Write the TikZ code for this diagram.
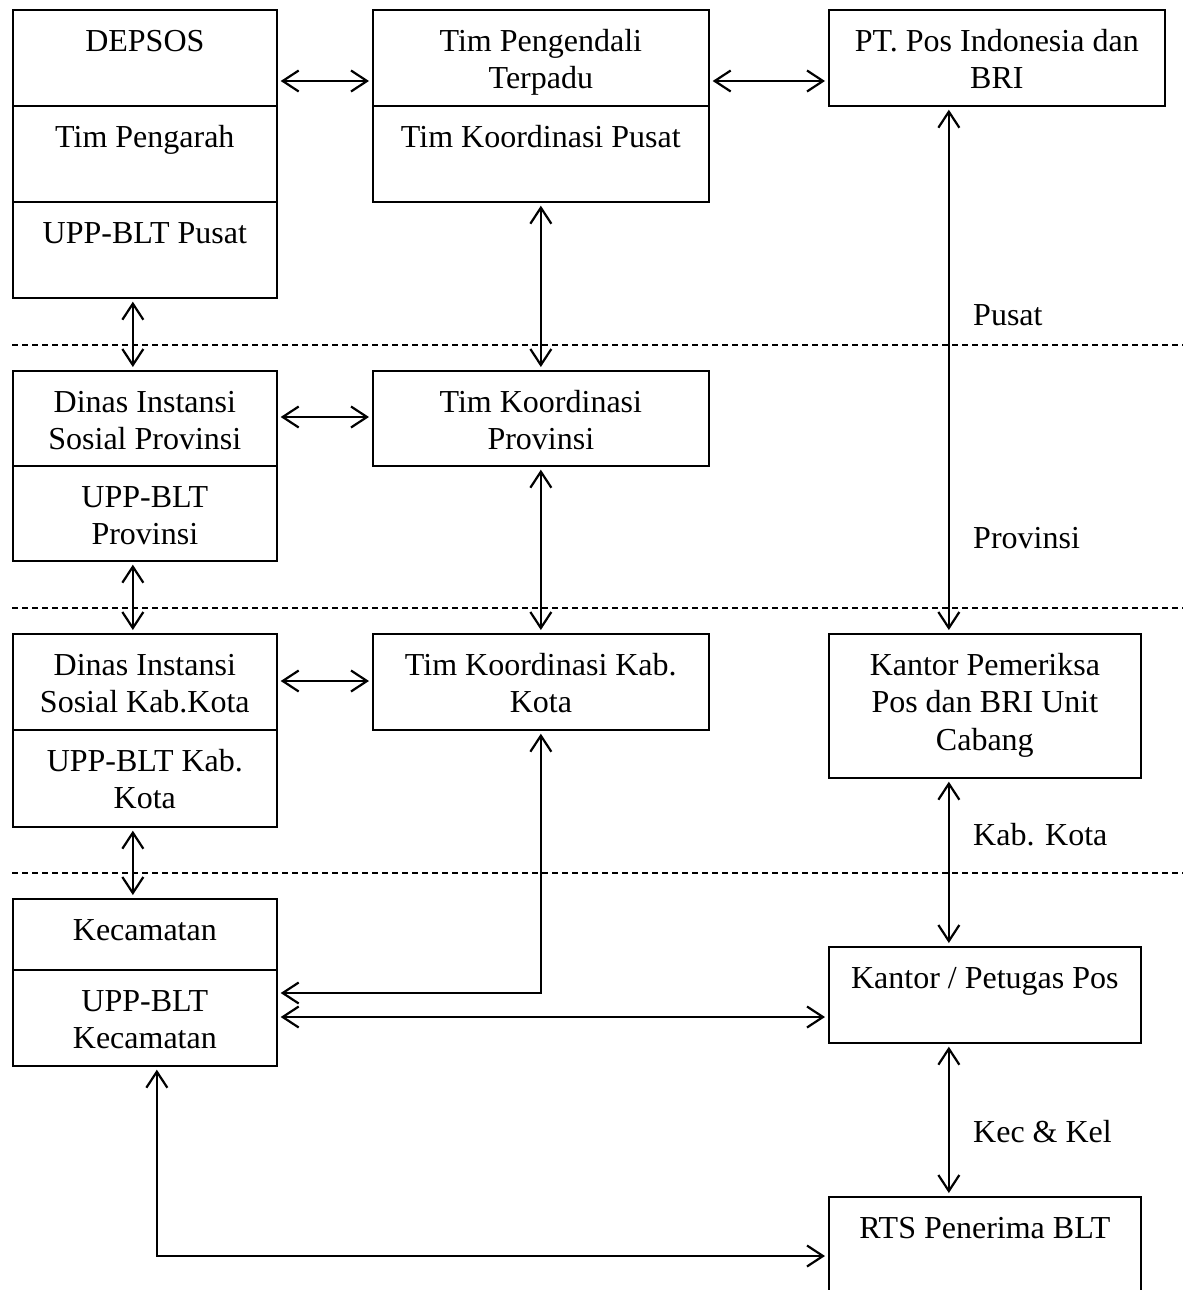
\documentclass[tikz,border=0pt]{standalone}
\usepackage{fontspec}
\setmainfont{Liberation Serif}
\usetikzlibrary{arrows.meta}
\newcommand\cellbox[6]{%
  \node[cell, minimum width=#4pt, minimum height=#5pt] (#1) at (#2,#3) {};
  \node[lbl] (#1t) at ([yshift=-19pt]#1.north) {\rule{0pt}{23pt}#6};}
\begin{document}
\begin{tikzpicture}[x=1pt,y=-1pt,
  cell/.style={draw, line width=1.7pt, inner sep=0pt, anchor=north west},
  lbl/.style={inner sep=0pt, align=center, font=\fontsize{32}{37.5}\selectfont, anchor=north},
  side/.style={inner sep=0pt, anchor=base west, font=\fontsize{32}{37.5}\selectfont},
  dbl/.style={{Straight Barb[length=16pt,width=21pt]}-{Straight Barb[length=16pt,width=21pt]}, line width=2.2pt, shorten <=3pt, shorten >=3pt},
  sep/.style={dash pattern=on 6pt off 4pt, line width=1.3pt}]
\useasboundingbox (0,0) rectangle (1183,1290);
\clip (0,0) rectangle (1183,1290);
% left column
\cellbox{dep}{12}{9}{264}{96}{DEPSOS}
\cellbox{peng}{12}{105}{264}{96}{Tim Pengarah}
\cellbox{uppp}{12}{201}{264}{96}{UPP-BLT Pusat}
\cellbox{dinp}{12}{370}{264}{95}{Dinas Instansi\\Sosial Provinsi}
\cellbox{uppprov}{12}{465}{264}{95}{UPP-BLT\\Provinsi}
\cellbox{dink}{12}{633}{264}{96}{Dinas Instansi\\Sosial Kab.Kota}
\cellbox{uppk}{12}{729}{264}{97}{UPP-BLT Kab.\\Kota}
\cellbox{kec}{12}{898}{264}{71}{Kecamatan}
\cellbox{uppkec}{12}{969}{264}{96}{UPP-BLT\\Kecamatan}
% middle column
\cellbox{pen}{372}{9}{336}{96}{Tim Pengendali\\Terpadu}
\cellbox{kp}{372}{105}{336}{96}{Tim Koordinasi Pusat}
\cellbox{kprov}{372}{370}{336}{95}{Tim Koordinasi\\Provinsi}
\cellbox{kkab}{372}{633}{336}{96}{Tim Koordinasi Kab.\\Kota}
% right column
\cellbox{pos}{828}{9}{336}{96}{PT. Pos Indonesia dan\\BRI}
\cellbox{kpem}{828}{633}{312}{144}{Kantor Pemeriksa\\Pos dan BRI Unit\\Cabang}
\cellbox{kpet}{828}{946}{312}{96}{Kantor / Petugas Pos}
\cellbox{rts}{828}{1196}{312}{140}{RTS Penerima BLT}
% dashed separators
\draw[sep] (12,345) -- (1183,345);
\draw[sep] (12,608) -- (1183,608);
\draw[sep] (12,873) -- (1183,873);
% side labels
\node[side] (lpusat) at (973,325) {Pusat};
\node[side] (lprov) at (973,548) {Provinsi};
\node[side] (lkab) at (973,845) {Kab. Kota};
\node[side] (lkec) at (973,1142) {Kec \& Kel};
% horizontal arrows
\draw[dbl] ([yshift=-72pt]dep.north east) -- ([yshift=-72pt]pen.north west);
\draw[dbl] ([yshift=-72pt]pen.north east) -- ([yshift=-72pt]pos.north west);
\draw[dbl] ([yshift=-47pt]dinp.north east) -- ([yshift=-47pt]kprov.north west);
\draw[dbl] ([yshift=-48pt]dink.north east) -- ([yshift=-48pt]kkab.north west);
\draw[dbl] ([yshift=-48pt]uppkec.north east) -- ([yshift=-71pt]kpet.north west);
% left verticals
\draw[dbl] ([xshift=-12pt]uppp.south) -- ([xshift=-12pt]dinp.north);
\draw[dbl] ([xshift=-12pt]uppprov.south) -- ([xshift=-12pt]dink.north);
\draw[dbl] ([xshift=-12pt]uppk.south) -- ([xshift=-12pt]kec.north);
% middle verticals
\draw[dbl] (kp.south) -- (kprov.north);
\draw[dbl] (kprov.south) -- (kkab.north);
\draw[dbl] (kkab.south) |- ([yshift=-24pt]uppkec.north east);
% right verticals
\draw[dbl] ([xshift=-48pt]pos.south) -- ([xshift=-36pt]kpem.north);
\draw[dbl] ([xshift=-36pt]kpem.south) -- ([xshift=-36pt]kpet.north);
\draw[dbl] ([xshift=-36pt]kpet.south) -- ([xshift=-36pt]rts.north);
% bottom loop
\draw[dbl] ([xshift=12pt]uppkec.south) |- ([yshift=-60pt]rts.north west);
\end{tikzpicture}
\end{document}
